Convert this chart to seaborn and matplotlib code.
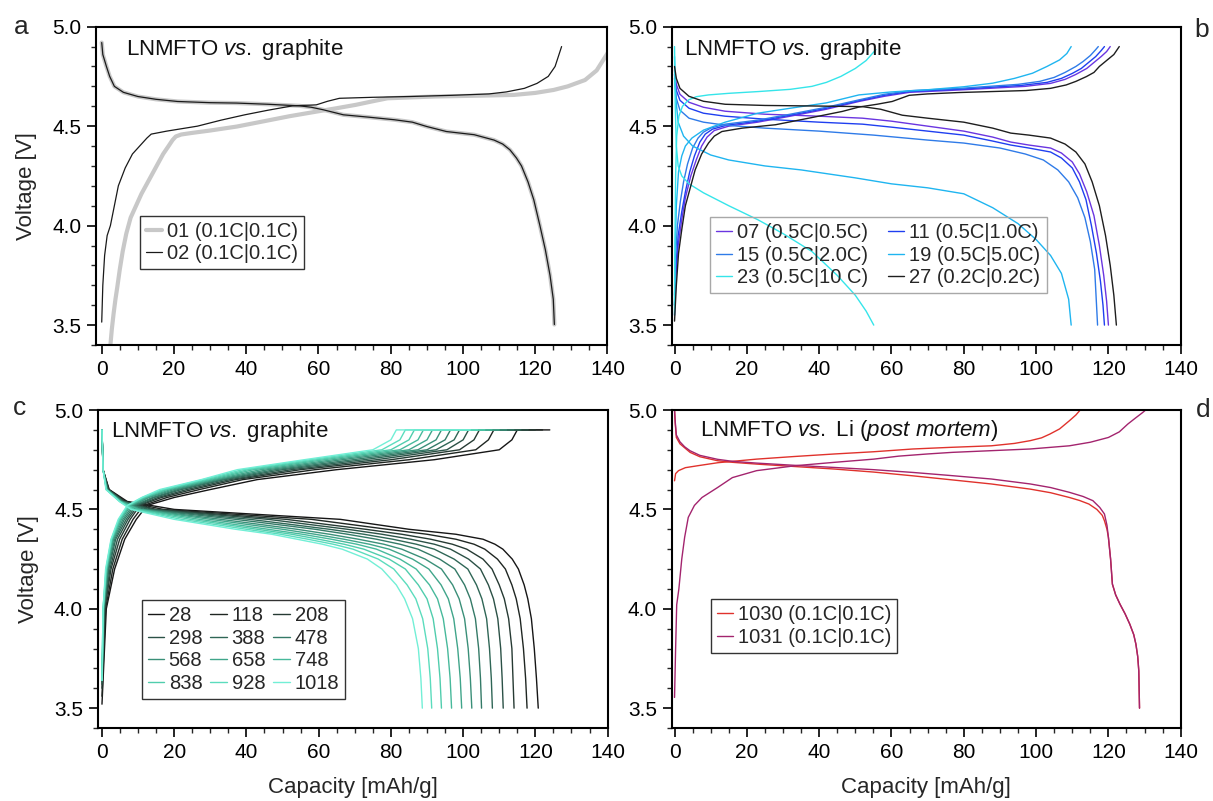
import matplotlib
matplotlib.use("Agg")
import matplotlib.pyplot as plt
from matplotlib.ticker import MultipleLocator, FormatStrFormatter
import seaborn as sns

# ---- panel a: LNMFTO vs graphite, formation cycles (capacity mAh/g, voltage V)
A02_CHARGE = [(0, 3.515), (0.3, 3.70), (0.8, 3.85), (1.5, 3.95), (2.4, 4.00), (3.5, 4.10),
              (4.6, 4.20), (6.5, 4.29), (8.5, 4.36), (10.5, 4.40), (12.5, 4.44), (13.7, 4.46),
              (18, 4.475), (26.5, 4.50), (33, 4.53), (39.6, 4.557), (46, 4.58), (52.8, 4.602),
              (59.4, 4.607), (62.5, 4.625), (65.8, 4.64), (75, 4.645), (85.3, 4.649),
              (97, 4.655), (107.2, 4.662), (112, 4.672), (117, 4.69), (120.5, 4.715),
              (123.6, 4.75), (125.5, 4.80), (127.3, 4.90)]
A02_DISCHARGE = [(0, 4.92), (0.3, 4.86), (1.3, 4.80), (2.2, 4.75), (3.5, 4.70), (6, 4.67),
                 (10, 4.649), (15, 4.635), (21, 4.624), (30, 4.618), (37.3, 4.616), (46, 4.61),
                 (54.8, 4.602), (58, 4.595), (61.4, 4.582), (66.9, 4.557), (74, 4.545),
                 (81.1, 4.532), (86, 4.52), (90, 4.498), (95.4, 4.473), (103.1, 4.457),
                 (108.6, 4.43), (111, 4.41), (113, 4.381), (114.8, 4.34), (116.2, 4.30),
                 (118, 4.22), (119.6, 4.13), (121.3, 4.00), (122.8, 3.879), (124.1, 3.75),
                 (125, 3.63), (125.3, 3.503)]
A01_CHARGE = [(2.4, 3.40), (2.8, 3.48), (3.3, 3.56), (3.8, 3.63), (4.3, 3.69), (5.0, 3.78),
              (5.8, 3.87), (6.8, 3.96), (8, 4.04), (9.5, 4.10), (11, 4.16), (12.5, 4.21),
              (14, 4.26), (15.5, 4.31), (17, 4.36), (18.5, 4.40), (19.6, 4.43), (20.5, 4.448),
              (22, 4.458), (25, 4.466), (30, 4.478), (37.4, 4.498), (45, 4.525), (52, 4.55),
              (59.4, 4.573), (65, 4.59), (70.3, 4.607), (75, 4.625), (79.1, 4.64),
              (92.2, 4.649), (104, 4.653), (114.1, 4.657), (120, 4.667), (125.1, 4.682),
              (129, 4.70), (133.8, 4.732), (137, 4.78), (140, 4.866), (142, 4.93)]
A01_DISCHARGE = A02_DISCHARGE  # the two discharge curves lie on top of each other

# ---- panel b: rate test
B_LABELS = ["07 (0.5C|0.5C)", "11 (0.5C|1.0C)", "15 (0.5C|2.0C)",
            "19 (0.5C|5.0C)", "23 (0.5C|10 C)", "27 (0.2C|0.2C)"]
B07_CHARGE = [(0, 3.55), (0.4, 3.75), (1, 3.90), (2, 4.03), (3, 4.14), (4.5, 4.25), (6, 4.33),
              (7.5, 4.40), (9, 4.445), (11, 4.478), (15, 4.50), (23, 4.52), (32, 4.55),
              (42, 4.585), (51, 4.624), (58, 4.65), (65, 4.67), (79, 4.682), (97, 4.70),
              (104, 4.715), (108, 4.735), (111, 4.76), (114, 4.79), (116, 4.82), (118, 4.85),
              (119.5, 4.875), (120.5, 4.90)]
B07_DISCHARGE = [(0, 4.78), (0.5, 4.71), (1.5, 4.66), (4, 4.62), (8, 4.595), (14, 4.575),
                 (25, 4.56), (40, 4.55), (52, 4.54), (60, 4.525), (70, 4.50), (80, 4.475),
                 (88, 4.445), (93, 4.42), (98, 4.405), (104, 4.39), (107, 4.365), (110, 4.32),
                 (112, 4.26), (114, 4.17), (116, 4.05), (117.5, 3.90), (118.7, 3.75),
                 (119.5, 3.62), (120.0, 3.50)]
B11_CHARGE = [(0, 3.60), (0.4, 3.80), (1, 3.95), (2, 4.07), (3, 4.17), (4.2, 4.27), (5.5, 4.35),
              (7, 4.42), (8.5, 4.46), (10.5, 4.485), (14.5, 4.505), (23, 4.525), (32, 4.555),
              (42, 4.59), (51, 4.628), (58, 4.655), (65, 4.674), (79, 4.686), (96, 4.705),
              (103, 4.72), (107, 4.74), (110, 4.765), (112.5, 4.79), (114.5, 4.82),
              (116.5, 4.85), (118, 4.88), (118.9, 4.90)]
B11_DISCHARGE = [(0, 4.76), (0.5, 4.68), (1.5, 4.63), (4, 4.59), (8, 4.565), (14, 4.55),
                 (25, 4.535), (40, 4.52), (52, 4.51), (60, 4.495), (70, 4.475), (80, 4.455),
                 (88, 4.425), (93, 4.405), (98, 4.39), (104, 4.37), (107, 4.34), (110, 4.29),
                 (112, 4.22), (113.8, 4.13), (115.3, 4.00), (116.7, 3.86), (117.8, 3.72),
                 (118.5, 3.60), (118.9, 3.50)]
B15_CHARGE = [(0, 3.65), (0.3, 3.85), (0.8, 4.00), (1.6, 4.12), (2.5, 4.22), (3.6, 4.31),
              (5, 4.39), (6.5, 4.44), (8, 4.47), (10, 4.49), (14, 4.51), (23, 4.53), (32, 4.56),
              (42, 4.595), (51, 4.632), (58, 4.66), (65, 4.678), (79, 4.69), (95, 4.71),
              (101, 4.725), (105, 4.745), (108, 4.77), (111, 4.80), (113, 4.825), (115, 4.855),
              (116.5, 4.885), (117.2, 4.90)]
B15_DISCHARGE = [(0, 4.74), (0.5, 4.64), (1.5, 4.58), (4, 4.54), (8, 4.52), (14, 4.505),
                 (25, 4.49), (40, 4.475), (55, 4.455), (70, 4.43), (80, 4.415), (90, 4.39),
                 (97, 4.36), (102, 4.33), (106, 4.28), (109, 4.22), (111.5, 4.14), (113.5, 4.04),
                 (115, 3.92), (116.2, 3.78), (117.0, 3.50)]
B19_CHARGE = [(0, 3.60), (0.2, 3.90), (0.5, 4.10), (1.1, 4.27), (2, 4.35), (3, 4.40),
              (4.8, 4.44), (8, 4.48), (14, 4.52), (23, 4.565), (32, 4.59), (42, 4.617),
              (51, 4.657), (60, 4.672), (70, 4.683), (80, 4.698), (88, 4.716), (94, 4.74),
              (99, 4.766), (103, 4.80), (106.5, 4.833), (108.5, 4.865), (109.7, 4.90)]
B19_DISCHARGE = [(0, 4.85), (0.3, 4.65), (1, 4.52), (2.5, 4.45), (5, 4.40), (10, 4.355),
                 (15, 4.33), (25, 4.30), (35, 4.28), (50, 4.24), (60, 4.21), (70, 4.19),
                 (80, 4.16), (88, 4.09), (95, 4.01), (100, 3.93), (104, 3.85), (107, 3.76),
                 (109, 3.63), (109.7, 3.50)]
B23_CHARGE = [(0, 3.55), (0.1, 3.90), (0.3, 4.25), (0.6, 4.45), (1.2, 4.55), (2.2, 4.60),
              (3.9, 4.632), (6, 4.648), (9.4, 4.657), (15, 4.665), (23.3, 4.674), (32, 4.685),
              (38, 4.70), (42, 4.72), (46, 4.75), (50, 4.79), (53, 4.83), (55.7, 4.885)]
B23_DISCHARGE = [(0, 4.90), (0.2, 4.60), (0.5, 4.40), (1, 4.30), (2, 4.25), (4, 4.21),
                 (8, 4.165), (15, 4.10), (23, 4.03), (30, 3.96), (38, 3.87), (45, 3.75),
                 (50, 3.65), (53, 3.57), (55.1, 3.50)]
B27_CHARGE = [(0, 3.52), (0.5, 3.70), (1.1, 3.86), (2, 3.98), (3, 4.10), (4.5, 4.20),
              (5.7, 4.28), (7.5, 4.36), (9.4, 4.415), (11, 4.45), (13.1, 4.473), (18.7, 4.49),
              (27.9, 4.507), (37.1, 4.54), (46.4, 4.574), (51, 4.596), (56, 4.61),
              (60.2, 4.624), (64.9, 4.655), (70, 4.662), (78.7, 4.669), (97.2, 4.679),
              (104, 4.69), (108.3, 4.707), (111, 4.725), (113.9, 4.749), (116, 4.77),
              (117.5, 4.80), (119.5, 4.83), (121.5, 4.86), (123.0, 4.90)]
B27_DISCHARGE = [(0, 4.80), (0.5, 4.74), (1.5, 4.69), (4, 4.65), (8, 4.625), (14, 4.61),
                 (25, 4.604), (40, 4.601), (52, 4.598), (57, 4.585), (63, 4.555), (70, 4.54),
                 (80, 4.52), (88, 4.49), (93, 4.465), (98, 4.455), (104, 4.44), (108, 4.41),
                 (111, 4.37), (113.5, 4.31), (115.5, 4.22), (117.5, 4.10), (119.2, 3.95),
                 (120.5, 3.80), (121.5, 3.65), (122.2, 3.50)]

# ---- panel c: long-term cycling, every 90th cycle
C_CYCLES = [28, 118, 208, 298, 388, 478, 568, 658, 748, 838, 928, 1018]
# charge: capacity where each voltage level is reached (last column = end of CV step)
C_CHG_V = [4.00, 4.20, 4.35, 4.45, 4.52, 4.56, 4.60, 4.65, 4.70, 4.75, 4.80, 4.85, 4.90, 4.90]
C_CHG_START = [3.52, 3.56, 3.60, 3.62, 3.63, 3.64, 3.64, 3.64, 3.64, 3.64, 3.64, 3.64]
C_CHG_CAP = [
    [1.2, 3.5, 6.3, 9.5, 12.5, 20, 30, 43, 65, 92, 110, 113.5, 115, 124],
    [1.0, 3.0, 5.6, 8.6, 11.5, 18, 27, 39, 59, 85, 103.5, 107, 108.5, 122],
    [0.8, 2.5, 4.9, 7.8, 10.5, 16.5, 25, 37, 55, 80, 99, 103, 104.5, 120],
    [0.7, 2.2, 4.3, 7.2, 10, 15.5, 23.5, 35.5, 52.5, 76, 95.5, 100, 101.5, 118],
    [0.6, 1.9, 3.8, 6.7, 9.5, 14.5, 22, 34, 50, 72.5, 92.5, 97.5, 99, 116],
    [0.5, 1.7, 3.5, 6.2, 9, 14, 21, 33, 48, 69.5, 90, 95, 96.5, 114],
    [0.5, 1.5, 3.2, 5.8, 8.5, 13, 20, 32, 46, 66.5, 87.5, 92.5, 94, 112],
    [0.4, 1.4, 3.0, 5.4, 8, 12.5, 19, 31, 44, 64, 85, 90, 91.5, 110],
    [0.4, 1.3, 2.8, 5.1, 7.7, 12, 18, 30, 42, 61.5, 82.5, 87.5, 89, 108],
    [0.3, 1.2, 2.7, 4.9, 7.4, 11.5, 17.5, 29, 40.5, 59.5, 80, 85, 86.5, 106],
    [0.3, 1.1, 2.6, 4.7, 7.2, 11.2, 16.8, 28, 39, 57.5, 77.5, 82.5, 84, 104],
    [0.3, 1.0, 2.5, 4.5, 7, 11, 16, 27.5, 37.5, 56, 75, 80, 81.5, 102],
]
# discharge: capacity where each voltage level is passed
C_DIS_V = [4.90, 4.70, 4.60, 4.54, 4.50, 4.45, 4.40, 4.375, 4.35, 4.325, 4.30, 4.25, 4.20,
           4.12, 4.05, 3.95, 3.80, 3.65, 3.50]
C_DIS_CAP = [
    [0, 0.3, 2.0, 7.0, 20, 66, 85, 98, 105.5, 108.8, 111, 113.6, 115.3, 116.9, 117.9, 118.9, 119.7, 120.3, 120.8],
    [0, 0.3, 1.9, 6.5, 17, 58, 79, 90, 98, 103, 106, 109.5, 111.7, 113.5, 114.7, 115.8, 116.7, 117.3, 117.7],
    [0, 0.3, 1.8, 6.2, 15, 51, 73, 83, 91, 97, 101, 105.5, 108, 110, 111.4, 112.6, 113.5, 113.8, 114.1],
    [0, 0.3, 1.7, 6.0, 14, 46, 68, 77.5, 85.5, 92, 96.5, 101.5, 104.8, 107, 108.4, 109.6, 110.4, 110.8, 111.1],
    [0, 0.3, 1.6, 5.8, 13, 41, 63, 72.5, 80.5, 87, 92, 97.5, 101.3, 103.7, 105.2, 106.5, 107.3, 107.8, 108.1],
    [0, 0.3, 1.5, 5.6, 12, 37, 59, 68, 76, 82.5, 87.5, 93.5, 97.7, 100.4, 102.0, 103.4, 104.3, 104.8, 105.1],
    [0, 0.3, 1.4, 5.4, 11, 33, 54, 63, 71, 78, 83, 89.5, 94, 97.1, 98.9, 100.4, 101.4, 102, 102.4],
    [0, 0.3, 1.3, 5.2, 10.5, 30, 50, 59, 67, 74, 79.5, 86, 90.5, 93.9, 95.9, 97.4, 98.5, 99.2, 99.6],
    [0, 0.3, 1.3, 5.1, 10, 27, 46, 55.5, 63.5, 70.5, 76, 82.5, 87, 90.7, 92.9, 94.5, 95.7, 96.4, 96.8],
    [0, 0.3, 1.2, 5.0, 9, 24.5, 43, 52.5, 60, 67, 72.5, 79.5, 84, 87.6, 90.0, 91.7, 92.9, 93.6, 94.0],
    [0, 0.3, 1.2, 4.9, 8.5, 22, 40, 49.5, 57, 64, 69.5, 76.5, 80.8, 84.5, 86.9, 88.8, 90.2, 90.9, 91.3],
    [0, 0.3, 1.1, 4.8, 8, 20, 37, 47, 54, 61, 66.5, 73.5, 77.5, 81.5, 83.8, 86.0, 87.6, 88.3, 88.7],
]

# ---- panel d: post mortem half cells vs Li
D1030_CHARGE = [(0, 4.644), (0.3, 4.68), (1.1, 4.695), (3, 4.71), (6.5, 4.72), (12, 4.735),
                (22.7, 4.753), (33, 4.766), (44.3, 4.779), (55, 4.79), (65.9, 4.804),
                (76, 4.812), (87.6, 4.82), (94, 4.832), (98.4, 4.846), (101.5, 4.86),
                (103.8, 4.879), (106.5, 4.905), (109.2, 4.946), (111, 4.975), (112.2, 5.0)]
D1030_DISCHARGE = [(0, 5.0), (0.2, 4.93), (0.5, 4.862), (1.5, 4.83), (2.8, 4.81), (4.3, 4.787),
                   (7, 4.765), (11.9, 4.745), (16, 4.737), (22.7, 4.728), (33, 4.716),
                   (44.3, 4.703), (55, 4.688), (65.9, 4.669), (76, 4.65), (87.6, 4.628),
                   (98.4, 4.602), (104, 4.584), (109.2, 4.56), (112, 4.545), (114.6, 4.527),
                   (116.8, 4.50), (118.3, 4.47), (118.9, 4.443), (119.6, 4.40), (120, 4.359),
                   (120.6, 4.25), (121.1, 4.124), (122, 4.07), (123.2, 4.023), (124.6, 3.975),
                   (125.9, 3.923), (127, 3.87), (127.6, 3.822), (128.1, 3.76), (128.4, 3.688),
                   (128.6, 3.50)]
D1031_CHARGE = [(0, 3.554), (0.3, 3.80), (0.6, 4.02), (1.2, 4.10), (2.0, 4.25), (2.8, 4.36),
                (3.8, 4.46), (5.5, 4.52), (7.6, 4.56), (11.9, 4.61), (16, 4.66), (22.7, 4.695),
                (33.5, 4.72), (44.3, 4.737), (55.1, 4.753), (62, 4.768), (70, 4.779),
                (76.8, 4.787), (98.4, 4.804), (109.2, 4.82), (115, 4.838), (120, 4.862),
                (123, 4.89), (125.4, 4.93), (127.5, 4.96), (129.3, 4.985), (130.3, 5.0)]
D1031_DISCHARGE = [(0, 5.0), (0.2, 4.94), (0.5, 4.875), (1.5, 4.84), (2.8, 4.815), (4.3, 4.795),
                   (7, 4.772), (11.9, 4.752), (16, 4.742), (22.7, 4.733), (33, 4.722),
                   (44.3, 4.711), (55, 4.70), (65.9, 4.686), (76, 4.671), (87.6, 4.653),
                   (98.4, 4.628), (104, 4.61), (109.2, 4.586), (113, 4.565), (115.7, 4.544),
                   (117.6, 4.51), (118.9, 4.477), (119.6, 4.42), (120, 4.359), (120.6, 4.25),
                   (121.1, 4.124), (122, 4.07), (123.2, 4.023), (124.6, 3.975), (125.9, 3.923),
                   (127, 3.87), (127.6, 3.822), (128.1, 3.76), (128.4, 3.688), (128.6, 3.50)]

sns.set_theme(style="ticks")
plt.rcParams["font.family"] = ["Liberation Sans", "DejaVu Sans"]
plt.rcParams["mathtext.fontset"] = "custom"
plt.rcParams["mathtext.rm"] = "Liberation Sans"
plt.rcParams["mathtext.it"] = "Liberation Sans:italic"


def curve(ax, pts, color, lw=1.0, label=None):
    x = [p[0] for p in pts]
    y = [p[1] for p in pts]
    kw = {"label": label} if label else {}
    sns.lineplot(x=x, y=y, ax=ax, color=color, lw=lw, sort=False, estimator=None,
                 legend=False, **kw)


def style(ax, xmin):
    ax.set_xlim(xmin, 140)
    ax.set_ylim(3.4, 5.0)
    ax.xaxis.set_major_locator(MultipleLocator(20))
    ax.xaxis.set_minor_locator(MultipleLocator(5))
    ax.yaxis.set_major_locator(MultipleLocator(0.5))
    ax.yaxis.set_minor_locator(MultipleLocator(0.1))
    ax.yaxis.set_major_formatter(FormatStrFormatter("%.1f"))
    ax.tick_params(which="major", direction="out", length=6.5, width=1.2, labelsize=15,
                   pad=4, colors="black")
    ax.tick_params(which="minor", direction="out", length=3.5, width=1.0)
    for s in ax.spines.values():
        s.set_linewidth(1.5)
        s.set_color("black")
    ax.set_xlabel("")
    ax.set_ylabel("")


def legend(ax, order, ncol, x0, top, edge, colsp=1.0):
    h, l = ax.get_legend_handles_labels()
    leg = ax.legend([h[i] for i in order], [l[i] for i in order], loc="upper left",
                    bbox_to_anchor=(x0, top), ncol=ncol, fontsize=14.5, frameon=True,
                    fancybox=False, edgecolor=edge, facecolor="none", framealpha=1,
                    handlelength=0.8, handletextpad=0.25, borderpad=0.3, labelspacing=0.18,
                    columnspacing=colsp, borderaxespad=0)
    leg.get_frame().set_linewidth(1.0)


fig = plt.figure(figsize=(12.13, 8.01), dpi=100)
ax_a = fig.add_axes([0.0791, 0.5693, 0.4217, 0.3974])
ax_b = fig.add_axes([0.5537, 0.5693, 0.4197, 0.3974])
ax_c = fig.add_axes([0.0805, 0.0911, 0.4204, 0.3970])
ax_d = fig.add_axes([0.5537, 0.0911, 0.4197, 0.3970])

# a
curve(ax_a, A01_CHARGE, "#c8c8c8", lw=3.0, label="01 (0.1C|0.1C)")
curve(ax_a, A01_DISCHARGE, "#c8c8c8", lw=3.0)
curve(ax_a, A02_CHARGE, "#1a1a1a", lw=0.9, label="02 (0.1C|0.1C)")
curve(ax_a, A02_DISCHARGE, "#1a1a1a", lw=0.9)
style(ax_a, -1.6)
legend(ax_a, [0, 1], 1, 0.086, 0.406, "#333333")

# b
b_colors = ["#6a35e0", "#1f3ff0", "#2f7be8", "#1fb5f0", "#35e5ea", "#1e1e1e"]
b_data = [(B07_CHARGE, B07_DISCHARGE), (B11_CHARGE, B11_DISCHARGE),
          (B15_CHARGE, B15_DISCHARGE), (B19_CHARGE, B19_DISCHARGE),
          (B23_CHARGE, B23_DISCHARGE), (B27_CHARGE, B27_DISCHARGE)]
for (chg, dis), col, lab in zip(b_data, b_colors, B_LABELS):
    curve(ax_b, chg, col, lw=1.0, label=lab)
    curve(ax_b, dis, col, lw=1.0)
style(ax_b, -0.8)
legend(ax_b, [0, 2, 4, 1, 3, 5], 2, 0.075, 0.402, "#a8a8a8")

# c
c_colors = ["#161616", "#1f2622", "#263a33", "#2b5146", "#2f6656", "#347a67",
            "#3a8f78", "#40a58a", "#47b99b", "#50cdad", "#5bdcbd", "#72efd6"]
for i, cyc in enumerate(C_CYCLES):
    chg = [(0, C_CHG_START[i])] + list(zip(C_CHG_CAP[i], C_CHG_V))
    dis = list(zip(C_DIS_CAP[i], C_DIS_V))
    curve(ax_c, chg, c_colors[i], lw=1.0, label=str(cyc))
    curve(ax_c, dis, c_colors[i], lw=1.0)
style(ax_c, -1.2)
legend(ax_c, [0, 3, 6, 9, 1, 4, 7, 10, 2, 5, 8, 11], 3, 0.086, 0.4025, "#333333",
       colsp=0.4)

# d
curve(ax_d, D1030_CHARGE, "#e0322c", lw=1.0, label="1030 (0.1C|0.1C)")
curve(ax_d, D1030_DISCHARGE, "#e0322c", lw=1.0)
curve(ax_d, D1031_CHARGE, "#a3246e", lw=1.0, label="1031 (0.1C|0.1C)")
curve(ax_d, D1031_DISCHARGE, "#a3246e", lw=1.0)
style(ax_d, -0.8)
legend(ax_d, [0, 1], 1, 0.077, 0.406, "#333333")

# in-panel titles
title_kw = dict(fontsize=16, ha="left", va="center", color="#111111")
ax_a.text(0.059, 0.928, "LNMFTO $\\mathit{vs.}$ graphite", transform=ax_a.transAxes, **title_kw)
ax_b.text(0.024, 0.928, "LNMFTO $\\mathit{vs.}$ graphite", transform=ax_b.transAxes, **title_kw)
ax_c.text(0.026, 0.932, "LNMFTO $\\mathit{vs.}$ graphite", transform=ax_c.transAxes, **title_kw)
ax_d.text(0.055, 0.937, "LNMFTO $\\mathit{vs.}$ Li $\\mathit{(post\\ mortem)}$",
          transform=ax_d.transAxes, **title_kw)

# axis labels
for ax in (ax_a, ax_c):
    ax.set_ylabel("Voltage [V]", fontsize=16)
    ax.yaxis.set_label_coords(-0.135, 0.5)
    ax.yaxis.label.set_va("center")
for ax in (ax_c, ax_d):
    ax.set_xlabel("Capacity [mAh/g]", fontsize=16)
    ax.xaxis.set_label_coords(0.5, -0.186)
    ax.xaxis.label.set_va("center")

# panel letters
for lx, ly, s in [(21, 27, "a"), (1202, 30, "b"), (20, 408, "c"), (1203, 410, "d")]:
    fig.text(lx / 1213, 1 - ly / 801, s, fontsize=19, ha="center", va="center")

fig.savefig("out.png", dpi=100)
